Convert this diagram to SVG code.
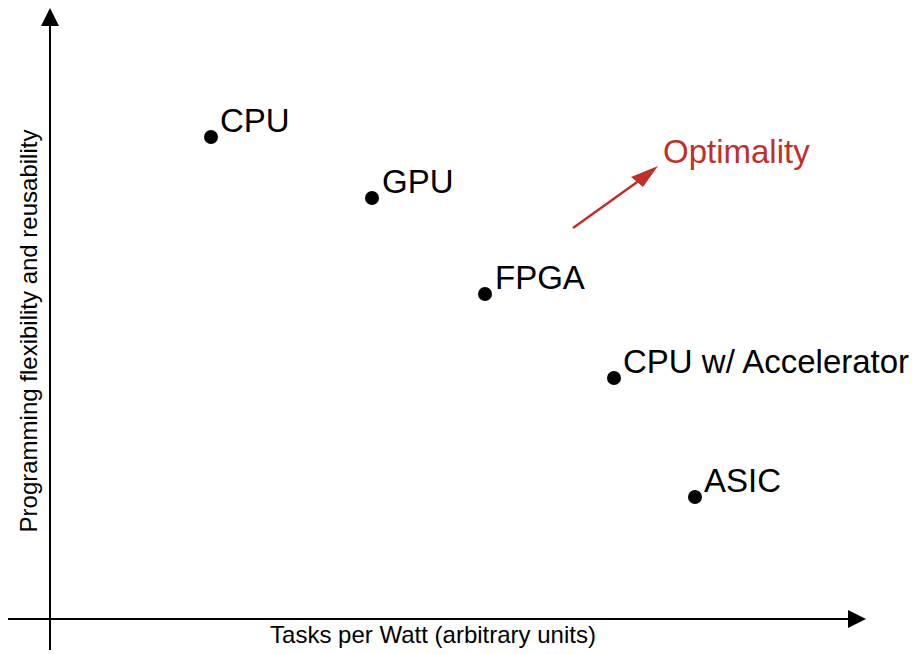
<svg xmlns="http://www.w3.org/2000/svg" width="912" height="654" viewBox="0 0 912 654">
  <style>
    .axis { stroke: #000; stroke-width: 2; fill: none; }
    .head { fill: #000; }
    .dot { fill: #000; }
    .lbl { font-family: "Liberation Sans", Arial, sans-serif; font-size: 33px; fill: #000; }
    .axlbl { font-family: "Liberation Sans", Arial, sans-serif; font-size: 24px; fill: #000; }
    .opt { font-family: "Liberation Sans", Arial, sans-serif; font-size: 33px; fill: #c0302a; }
  </style>
  <rect width="912" height="654" fill="#fff"/>

  <g id="connectors">
    <!-- vertical axis -->
    <line class="axis" x1="50" y1="650" x2="50" y2="24"/>
    <polygon class="head" points="50,8 41,26 59,26"/>
    <!-- horizontal axis -->
    <line class="axis" x1="8" y1="619" x2="850" y2="619"/>
    <polygon class="head" points="866,619 848,610 848,628"/>
    <!-- optimality arrow -->
    <line x1="573" y1="228" x2="640" y2="180" stroke="#c0302a" stroke-width="2.5"/>
    <polygon points="658,166 631,177 643,187" fill="#c0302a"/>
  </g>

  <g id="axis-x-label">
    <text class="axlbl" x="433" y="643" text-anchor="middle">Tasks per Watt (arbitrary units)</text>
  </g>
  <g id="axis-y-label">
    <text class="axlbl" transform="translate(37,331) rotate(-90)" text-anchor="middle">Programming flexibility and reusability</text>
  </g>

  <g id="cpu">
    <circle class="dot" cx="211" cy="137" r="7"/>
    <text class="lbl" x="220" y="132">CPU</text>
  </g>
  <g id="gpu">
    <circle class="dot" cx="372" cy="198" r="7"/>
    <text class="lbl" x="382" y="193">GPU</text>
  </g>
  <g id="fpga">
    <circle class="dot" cx="485" cy="294" r="7"/>
    <text class="lbl" x="495" y="289">FPGA</text>
  </g>
  <g id="cpu-accel">
    <circle class="dot" cx="614" cy="378" r="7"/>
    <text class="lbl" x="623" y="373">CPU w/ Accelerator</text>
  </g>
  <g id="asic">
    <circle class="dot" cx="695" cy="497" r="7"/>
    <text class="lbl" x="704" y="492">ASIC</text>
  </g>
  <g id="optimality">
    <text class="opt" x="663" y="163">Optimality</text>
  </g>
</svg>
